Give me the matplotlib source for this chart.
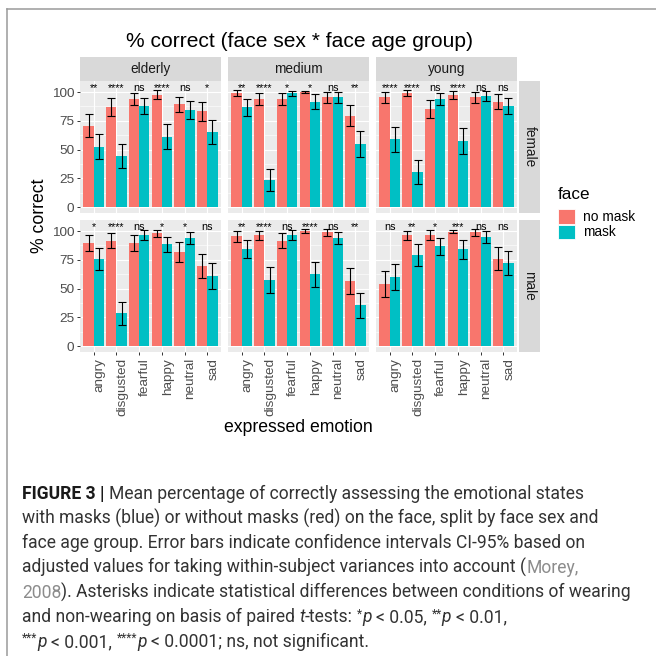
import matplotlib
matplotlib.use("Agg")
import matplotlib.pyplot as plt
from matplotlib.lines import Line2D
from matplotlib.patches import Rectangle
from matplotlib.ticker import FixedLocator
import numpy as np

plt.rcParams["font.family"] = ["Liberation Sans", "DejaVu Sans"]

W, H, DPI = 656, 656, 100

# ---------------------------------------------------------------- data
emotions = ["angry", "disgusted", "fearful", "happy", "neutral", "sad"]
age_groups = ["elderly", "medium", "young"]
face_sexes = ["female", "male"]
conditions = ["no mask", "mask"]

# mean % correct, ordered like `emotions`
female_elderly_nomask = [70.7, 86.7, 93.9, 97.7, 89.3, 83.2]
female_elderly_mask = [52.4, 44.3, 87.8, 61.2, 84.3, 65.0]
female_medium_nomask = [98.8, 93.9, 93.9, 100.0, 95.4, 79.4]
female_medium_mask = [86.7, 23.5, 98.8, 91.6, 95.4, 54.8]
female_young_nomask = [95.4, 98.8, 85.0, 97.7, 95.4, 91.6]
female_young_mask = [58.8, 30.7, 93.9, 57.4, 96.5, 87.8]
male_elderly_nomask = [89.6, 91.6, 89.3, 98.0, 82.0, 69.6]
male_elderly_mask = [75.7, 28.4, 96.5, 88.4, 94.2, 60.9]
male_medium_nomask = [95.4, 96.5, 91.6, 100.0, 98.8, 56.5]
male_medium_mask = [84.3, 57.4, 96.5, 62.6, 93.9, 35.4]
male_young_nomask = [53.9, 96.5, 96.5, 99.5, 98.8, 75.9]
male_young_mask = [60.0, 79.1, 86.7, 84.0, 95.0, 72.2]

# half-width of the 95% confidence intervals
female_elderly_nomask_ci = [10.0, 7.7, 5.5, 3.7, 6.5, 8.1]
female_elderly_mask_ci = [10.9, 10.7, 7.3, 10.8, 8.0, 10.5]
female_medium_nomask_ci = [2.6, 5.1, 5.2, 1.2, 4.8, 9.0]
female_medium_mask_ci = [7.3, 9.6, 2.3, 6.4, 4.8, 11.1]
female_young_nomask_ci = [4.8, 2.6, 7.9, 3.5, 4.5, 6.4]
female_young_mask_ci = [10.8, 10.3, 5.2, 11.0, 4.4, 7.3]
male_elderly_nomask_ci = [6.9, 6.4, 7.0, 3.0, 8.6, 10.2]
male_elderly_mask_ci = [9.9, 10.0, 4.2, 6.5, 5.1, 10.9]
male_medium_nomask_ci = [5.0, 3.9, 6.5, 1.5, 2.9, 11.0]
male_medium_mask_ci = [7.7, 10.9, 4.2, 10.9, 5.2, 10.6]
male_young_nomask_ci = [11.5, 3.9, 4.1, 1.5, 2.9, 9.9]
male_young_mask_ci = [11.3, 9.2, 7.4, 8.4, 5.1, 10.1]

# paired t-test significance labels
female_elderly_sig = ["**", "****", "ns", "****", "ns", "*"]
female_medium_sig = ["**", "****", "*", "*", "ns", "**"]
female_young_sig = ["****", "****", "ns", "****", "ns", "ns"]
male_elderly_sig = ["*", "****", "ns", "*", "*", "ns"]
male_medium_sig = ["**", "****", "ns", "****", "ns", "**"]
male_young_sig = ["ns", "**", "*", "***", "ns", "ns"]

y_ticks = [0, 25, 50, 75, 100]

panels = {
    ("female", "elderly"): (female_elderly_nomask, female_elderly_mask,
                            female_elderly_nomask_ci, female_elderly_mask_ci, female_elderly_sig),
    ("female", "medium"): (female_medium_nomask, female_medium_mask,
                           female_medium_nomask_ci, female_medium_mask_ci, female_medium_sig),
    ("female", "young"): (female_young_nomask, female_young_mask,
                          female_young_nomask_ci, female_young_mask_ci, female_young_sig),
    ("male", "elderly"): (male_elderly_nomask, male_elderly_mask,
                          male_elderly_nomask_ci, male_elderly_mask_ci, male_elderly_sig),
    ("male", "medium"): (male_medium_nomask, male_medium_mask,
                         male_medium_nomask_ci, male_medium_mask_ci, male_medium_sig),
    ("male", "young"): (male_young_nomask, male_young_mask,
                        male_young_nomask_ci, male_young_mask_ci, male_young_sig),
}

# ---------------------------------------------------------------- style
RED, CYAN = "#F8766D", "#00BFC4"
PANEL_BG, STRIP_BG = "#EBEBEB", "#D9D9D9"
TICK_TXT, TICK_LINE = "#4D4D4D", "#333333"

fig = plt.figure(figsize=(W / DPI, H / DPI), dpi=DPI)
fig.patch.set_facecolor("white")


def px_axes(x0, y0, x1, y1):
    return fig.add_axes([x0 / W, 1 - y1 / H, (x1 - x0) / W, (y1 - y0) / H])


def fx(x):
    return x / W


def fy(y):
    return 1 - y / H


col_px = [(80, 221), (228, 369), (376, 517)]
row_px = [(81, 213), (220, 352)]
x = np.arange(1, len(emotions) + 1)
bw = 0.45

for r, sex in enumerate(face_sexes):
    for c, age in enumerate(age_groups):
        nomask, mask, ci_n, ci_m, sig = panels[(sex, age)]
        ax = px_axes(col_px[c][0], row_px[r][0], col_px[c][1], row_px[r][1])
        ax.set_facecolor(PANEL_BG)
        for s in ax.spines.values():
            s.set_visible(False)
        ax.set_xlim(0.4, 6.6)
        ax.set_ylim(-5.2, 109.6)
        ax.set_xticks(x)
        ax.set_yticks(y_ticks)
        ax.yaxis.set_minor_locator(FixedLocator([12.5, 37.5, 62.5, 87.5]))
        ax.set_axisbelow(True)
        ax.grid(which="major", color="white", lw=0.8)
        ax.grid(which="minor", axis="y", color="white", lw=0.4)
        ax.tick_params(which="minor", length=0)

        ax.bar(x - bw / 2, nomask, width=bw, color=RED, zorder=2)
        ax.bar(x + bw / 2, mask, width=bw, color=CYAN, zorder=2)
        ax.errorbar(x - bw / 2, nomask, yerr=ci_n, fmt="none", ecolor="black",
                    elinewidth=0.8, capsize=3.2, capthick=0.8, zorder=3)
        ax.errorbar(x + bw / 2, mask, yerr=ci_m, fmt="none", ecolor="black",
                    elinewidth=0.8, capsize=3.2, capthick=0.8, zorder=3)
        for xi, lab in zip(x, sig):
            ax.text(xi, 101.2, lab, ha="center", va="baseline", fontsize=7.8,
                    color="black", zorder=4)

        # axes: y labels on the first column, x labels on the bottom row
        if c == 0:
            ax.tick_params(axis="y", length=2.2, width=0.7, color=TICK_LINE,
                           pad=1.8, labelsize=9.7, labelcolor=TICK_TXT)
        else:
            ax.tick_params(axis="y", length=0, labelleft=False)
        if r == len(face_sexes) - 1:
            ax.tick_params(axis="x", length=2.2, width=0.7, color=TICK_LINE,
                           pad=2.2, labelsize=9.7, labelcolor=TICK_TXT)
            ax.set_xticklabels(emotions, rotation=90, ha="left", va="top")
        else:
            ax.tick_params(axis="x", length=0, labelbottom=False)

        # facet strips
        if r == 0:
            sax = px_axes(col_px[c][0], 57, col_px[c][1], 81)
            sax.set_facecolor(STRIP_BG)
            sax.set_xticks([]); sax.set_yticks([])
            for s in sax.spines.values():
                s.set_visible(False)
            sax.text(0.5, 0.5, age, ha="center", va="center", fontsize=9.8,
                     color="#1A1A1A", transform=sax.transAxes)
        if c == len(age_groups) - 1:
            sax = px_axes(519, row_px[r][0], 540, row_px[r][1])
            sax.set_facecolor(STRIP_BG)
            sax.set_xticks([]); sax.set_yticks([])
            for s in sax.spines.values():
                s.set_visible(False)
            sax.text(0.5, 0.5, sex, ha="center", va="center", fontsize=9.8,
                     rotation=-90, color="#1A1A1A", transform=sax.transAxes)

# titles
fig.text(fx(299.5), fy(47.3), "% correct (face sex * face age group)", ha="center",
         va="baseline", fontsize=15.1, color="black")
fig.text(fx(39), fy(216), "% correct", ha="center", va="center", rotation=90,
         fontsize=12.7, color="black")
fig.text(fx(298.5), fy(432), "expressed emotion", ha="center", va="baseline",
         fontsize=12.7, color="black")

# legend
fig.text(fx(558), fy(199), "face", ha="left", va="baseline", fontsize=12.3, color="black")
handles = [Rectangle((0, 0), 1, 1, facecolor=RED, edgecolor="white", lw=0.6),
           Rectangle((0, 0), 1, 1, facecolor=CYAN, edgecolor="white", lw=0.6)]
fig.legend(handles, conditions, loc="upper left", bbox_to_anchor=(fx(558), fy(209)),
           frameon=False, borderpad=0, borderaxespad=0, fontsize=9.9,
           handlelength=1.25, handleheight=1.25, handletextpad=0.6, labelspacing=0.05)

# frame lines around the figure block
fig.add_artist(Line2D([fx(7), fx(656)], [fy(9), fy(9)], color="#9A9A9A", lw=1.1,
                      transform=fig.transFigure))
fig.add_artist(Line2D([fx(7), fx(7)], [fy(9), fy(656)], color="#9A9A9A", lw=1.1,
                      transform=fig.transFigure))

# caption with mixed styling
renderer = fig.canvas.get_renderer()
CAP = dict(family=["Roboto", "DejaVu Sans"], size=12.65, weight="normal", color="#333333")
GREY = "#8C8C8C"


def text_w(s, kw):
    t = fig.text(0, 0, s, **kw)
    w = t.get_window_extent(renderer).width
    t.remove()
    return w


def draw_line(x0, ybase, runs):
    xp = x0
    for s, st in runs:
        kw = dict(CAP)
        kw.update(st)
        rise = kw.pop("rise", 0)
        sp = text_w("a a", kw) - text_w("aa", kw)
        lead = len(s) - len(s.lstrip(" "))
        trail = len(s) - len(s.rstrip(" "))
        core = s.strip(" ")
        xp += lead * sp
        if core:
            t = fig.text(fx(xp), fy(ybase - rise), core, ha="left", va="baseline", **kw)
            xp += t.get_window_extent(renderer).width
        xp += trail * sp


SUP = dict(size=8.6, rise=5.3)
IT = dict(style="italic")
lines = [
    [("FIGURE 3 | ", dict(weight="bold", color="#1A1A1A")),
     ("Mean percentage of correctly assessing the emotional states", {})],
    [("with masks (blue) or without masks (red) on the face, split by face sex and", {})],
    [("face age group. Error bars indicate confidence intervals CI-95% based on", {})],
    [("adjusted values for taking within-subject variances into account (", {}),
     ("Morey,", dict(color=GREY))],
    [("2008", dict(color=GREY)),
     ("). Asterisks indicate statistical differences between conditions of wearing", {})],
    [("and non-wearing on basis of paired ", {}), ("t", IT), ("-tests: ", {}),
     ("*", SUP), ("p", IT), (" < 0.05, ", {}), ("**", SUP), ("p", IT), (" < 0.01,", {})],
    [("***", SUP), ("p", IT), (" < 0.001, ", {}), ("****", SUP), ("p", IT),
     (" < 0.0001; ns, not significant.", {})],
]
for i, runs in enumerate(lines):
    draw_line(22, 499 + i * 24.7, runs)

fig.savefig("out.png", dpi=DPI)
